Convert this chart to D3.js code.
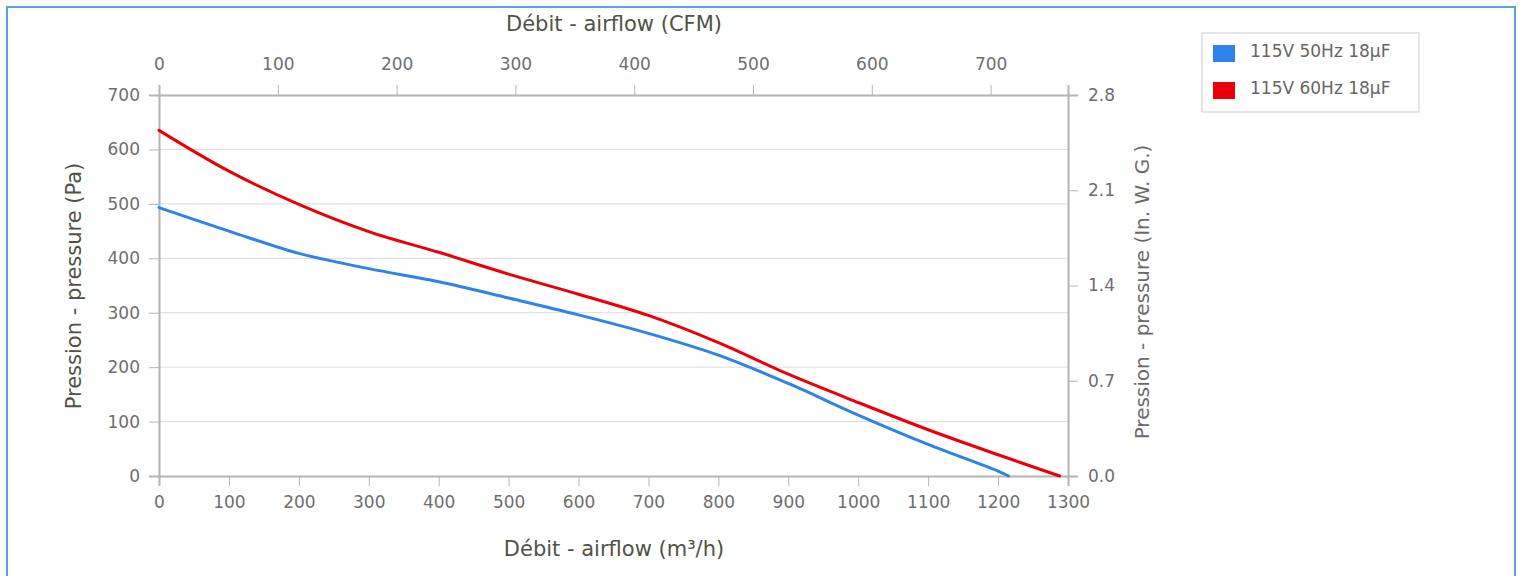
<!DOCTYPE html>
<html>
<head>
<meta charset="utf-8">
<script src="https://cdn.jsdelivr.net/npm/d3@7"></script>
<style>
  html, body { margin: 0; padding: 0; background: #fff; }
  svg { display: block; }
  text { font-family: "DejaVu Sans", Verdana, sans-serif; }
</style>
</head>
<body>
<svg id="chart" width="1523" height="576"></svg>
<script>
// ---- data ----
const seriesNames = ["115V 50Hz 18µF", "115V 60Hz 18µF"];
const flow50 = [0, 100, 200, 300, 400, 500, 600, 700, 800, 900, 1000, 1100, 1200, 1215];
const pres50 = [493, 450, 409, 381, 357, 327, 296, 262, 222, 170, 112, 58, 9, 0];
const flow60 = [0, 100, 200, 300, 400, 500, 600, 700, 800, 900, 1000, 1100, 1200, 1288];
const pres60 = [635, 560, 499, 449, 411, 371, 334, 295, 245, 187, 135, 85, 39, 0];
const flowTicks = [0, 100, 200, 300, 400, 500, 600, 700, 800, 900, 1000, 1100, 1200, 1300];
const cfmTicks = [0, 100, 200, 300, 400, 500, 600, 700];
const paTicks = [0, 100, 200, 300, 400, 500, 600, 700];
const inwgTicks = [0, 0.7, 1.4, 2.1, 2.8];
const colors = ["#2f83e8", "#e8000b"];
const M3H_PER_CFM = 1.699;

const svg = d3.select("#chart");
const L = 159, R = 1068, T = 95, B = 476;

const x = d3.scaleLinear().domain([0, 1300]).range([L, R]);
const xCfm = d3.scaleLinear().domain([0, 1300 / M3H_PER_CFM]).range([L, R]);
const y = d3.scaleLinear().domain([0, 700]).range([B, T]);
const yIn = d3.scaleLinear().domain([0, 2.8]).range([B, T]);

// outer border
svg.append("rect").attr("x", 7).attr("y", 7).attr("width", 1508).attr("height", 600)
  .attr("fill", "none").attr("stroke", "#5ba1ea").attr("stroke-width", 2);

// gridlines
svg.append("g").selectAll("line").data(paTicks.filter(d => d > 0 && d < 700)).join("line")
  .attr("x1", L).attr("x2", R).attr("y1", d => y(d)).attr("y2", d => y(d))
  .attr("stroke", "#dcdcdc").attr("stroke-width", 1);

const tickColor = "#6e6e6e";
const axisColor = "#b4b4b4";
function styleAxis(g) {
  g.select(".domain").attr("stroke", axisColor).attr("stroke-width", 2);
  g.selectAll(".tick line").attr("stroke", axisColor).attr("stroke-width", 1);
  g.selectAll(".tick text").attr("fill", tickColor).attr("font-size", 17)
    .attr("font-family", "'DejaVu Sans', Verdana, sans-serif");
}

// bottom axis
svg.append("g").attr("transform", `translate(0,${B})`)
  .call(d3.axisBottom(x).tickValues(flowTicks).tickSizeOuter(0).tickSize(10).tickPadding(10).tickFormat(d3.format("d")))
  .call(styleAxis);
// top axis
svg.append("g").attr("transform", `translate(0,${T})`)
  .call(d3.axisTop(xCfm).tickValues(cfmTicks).tickSizeOuter(0).tickSize(10).tickPadding(15).tickFormat(d3.format("d")))
  .call(styleAxis);
// left axis
svg.append("g").attr("transform", `translate(${L},0)`)
  .call(d3.axisLeft(y).tickValues(paTicks).tickSizeOuter(0).tickSize(10).tickPadding(9).tickFormat(d3.format("d")))
  .call(styleAxis);
// right axis
svg.append("g").attr("transform", `translate(${R},0)`)
  .call(d3.axisRight(yIn).tickValues(inwgTicks).tickSizeOuter(0).tickSize(10).tickPadding(10).tickFormat(d3.format(".1f")))
  .call(styleAxis);

// series lines
const line = d3.line().x(d => x(d[0])).y(d => y(d[1])).curve(d3.curveCatmullRom.alpha(0.5));
const series = [d3.zip(flow50, pres50), d3.zip(flow60, pres60)];
svg.append("g").selectAll("path").data(series).join("path")
  .attr("d", line).attr("fill", "none")
  .attr("stroke", (d, i) => colors[i]).attr("stroke-width", 3)
  .attr("stroke-linejoin", "round").attr("stroke-linecap", "round");

// axis titles
const titleColor = "#4f5346";
svg.append("text").attr("x", 614).attr("y", 31).attr("text-anchor", "middle")
  .attr("font-size", 21).attr("fill", titleColor).text("Débit - airflow (CFM)");
svg.append("text").attr("x", 614).attr("y", 556).attr("text-anchor", "middle")
  .attr("font-size", 21).attr("fill", titleColor).text("Débit - airflow (m³/h)");
svg.append("text").attr("transform", "translate(81,286) rotate(-90)").attr("text-anchor", "middle")
  .attr("font-size", 21).attr("fill", titleColor).text("Pression - pressure (Pa)");
svg.append("text").attr("transform", "translate(1149,292) rotate(-90)").attr("text-anchor", "middle")
  .attr("font-size", 20).attr("fill", "#6a6a6a").text("Pression - pressure (In. W. G.)");

// legend
const lg = svg.append("g");
lg.append("rect").attr("x", 1202).attr("y", 33).attr("width", 217).attr("height", 79)
  .attr("fill", "#fff").attr("stroke", "#dedede").attr("stroke-width", 1.5);
const items = lg.selectAll("g.item").data(seriesNames).join("g").attr("class", "item")
  .attr("transform", (d, i) => `translate(1213,${45 + i * 37})`);
items.append("rect").attr("width", 22).attr("height", 17).attr("fill", (d, i) => colors[i]);
items.append("text").attr("x", 37).attr("y", 12).attr("font-size", 17).attr("fill", "#666")
  .text(d => d);
</script>
</body>
</html>
